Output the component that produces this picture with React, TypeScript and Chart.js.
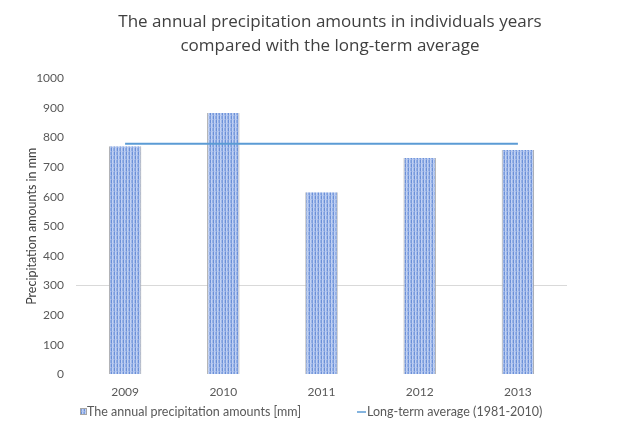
import React, { useEffect, useRef } from "react";
import { Chart, registerables } from "chart.js";

Chart.register(...registerables);

const categories = ["2009", "2010", "2011", "2012", "2013"];
const precipitation = [770, 882, 615, 730, 757];
const longTermAverage = [778, 778, 778, 778, 778];
const titleLines = [
  "The annual precipitation amounts in individuals years",
  "compared with the long-term average",
];
const yAxisTitle = "Precipitation amounts in mm";
const barLabel = "The annual precipitation amounts [mm]";
const lineLabel = "Long-term average (1981-2010)";

const FONT = "Lato";
const TITLE_FONT = "'Open Sans'";
const BAR_BORDER = "#a6a6a6";
const LINE_COLOR = "#5b9bd5";

function makePattern(): CanvasPattern | string {
  const c = document.createElement("canvas");
  c.width = 6;
  c.height = 8;
  const g = c.getContext("2d");
  if (!g) return "#9fb8ea";
  const cols = ["#6a8fd8", "#c2d2f3", "#93afe6", "#7b9ddd", "#c2d2f3", "#a3bbea"];
  for (let y = 0; y < 8; y++) {
    const shift = y < 4 ? 0 : 3;
    for (let x = 0; x < 6; x++) {
      let col = cols[(x + shift) % 6];
      if (y === 3 || y === 7) col = (x + shift) % 3 === 0 ? "#8eaae3" : "#b3c6ef";
      g.fillStyle = col;
      g.fillRect(x, y, 1, 1);
    }
  }
  return g.createPattern(c, "repeat") || "#9fb8ea";
}

export default function App() {
  const ref = useRef<HTMLCanvasElement | null>(null);
  useEffect(() => {
    if (!ref.current) return;
    const pattern = makePattern();

    const decorations = {
      id: "decorations",
      afterDraw(chart: any) {
        const ctx = chart.ctx as CanvasRenderingContext2D;
        ctx.save();
        // title
        ctx.fillStyle = "#404040";
        ctx.font = `17px ${TITLE_FONT}`;
        ctx.textAlign = "center";
        ctx.textBaseline = "middle";
        const cx = 330;
        titleLines.forEach((t, i) => ctx.fillText(t, cx, 22 + i * 24));

        // legend
        const ly = 412;
        ctx.font = `12.5px ${FONT}`;
        ctx.textAlign = "left";
        let x = 80;
        ctx.fillStyle = pattern as any;
        ctx.fillRect(x, ly - 4, 7, 7);
        ctx.strokeStyle = BAR_BORDER;
        ctx.lineWidth = 1;
        ctx.strokeRect(x + 0.5, ly - 3.5, 6, 6);
        ctx.fillStyle = "#595959";
        ctx.fillText(barLabel, x + 7, ly);
        x = 357;
        ctx.strokeStyle = LINE_COLOR;
        ctx.lineWidth = 1.5;
        ctx.beginPath();
        ctx.moveTo(x, ly);
        ctx.lineTo(x + 9, ly);
        ctx.stroke();
        ctx.fillText(lineLabel, x + 10, ly);
        ctx.restore();
      },
    };

    const chart = new Chart(ref.current, {
      data: {
        labels: categories,
        datasets: [
          {
            type: "bar",
            label: barLabel,
            data: precipitation,
            backgroundColor: pattern as any,
            borderColor: BAR_BORDER,
            borderWidth: { left: 1, right: 1, top: 0, bottom: 0 } as any,
            borderSkipped: false as any,
            categoryPercentage: 1,
            barPercentage: 0.33,
            order: 2,
          } as any,
          {
            type: "line",
            label: lineLabel,
            data: longTermAverage,
            borderColor: LINE_COLOR,
            backgroundColor: LINE_COLOR,
            borderWidth: 2,
            pointRadius: 0,
            order: 1,
          } as any,
        ],
      },
      options: {
        animation: false,
        responsive: false,
        maintainAspectRatio: false,
        layout: { padding: { left: 20, right: 65, top: 78, bottom: 23 } },
        plugins: {
          title: { display: false },
          legend: { display: false },
          tooltip: { enabled: false },
        },
        scales: {
          x: {
            grid: { display: false, drawTicks: false },
            border: { display: false },
            ticks: { color: "#595959", font: { family: FONT, size: 12 }, padding: 10 },
          },
          y: {
            min: 0,
            max: 1000,
            ticks: {
              stepSize: 100,
              color: "#595959",
              font: { family: FONT, size: 12 },
              padding: 12,
              callback: (v: any) => String(v),
            },
            grid: {
              drawTicks: false,
              color: (ctx: any) =>
                ctx.tick && ctx.tick.value === 300 ? "#d9d9d9" : "rgba(0,0,0,0)",
            },
            border: { display: false },
            title: {
              display: true,
              text: yAxisTitle,
              color: "#404040",
              font: { family: FONT, size: 12.5 },
            },
            afterFit: (scale: any) => {
              scale.width = 56;
            },
          },
        },
      },
      plugins: [decorations],
    } as any);
    return () => chart.destroy();
  }, []);
  return (
    <div style={{ position: "fixed", left: 0, top: 0, width: 632, height: 432, background: "#fff" }}>
      <canvas ref={ref} width={632} height={432} style={{ width: 632, height: 432 }} />
    </div>
  );
}
